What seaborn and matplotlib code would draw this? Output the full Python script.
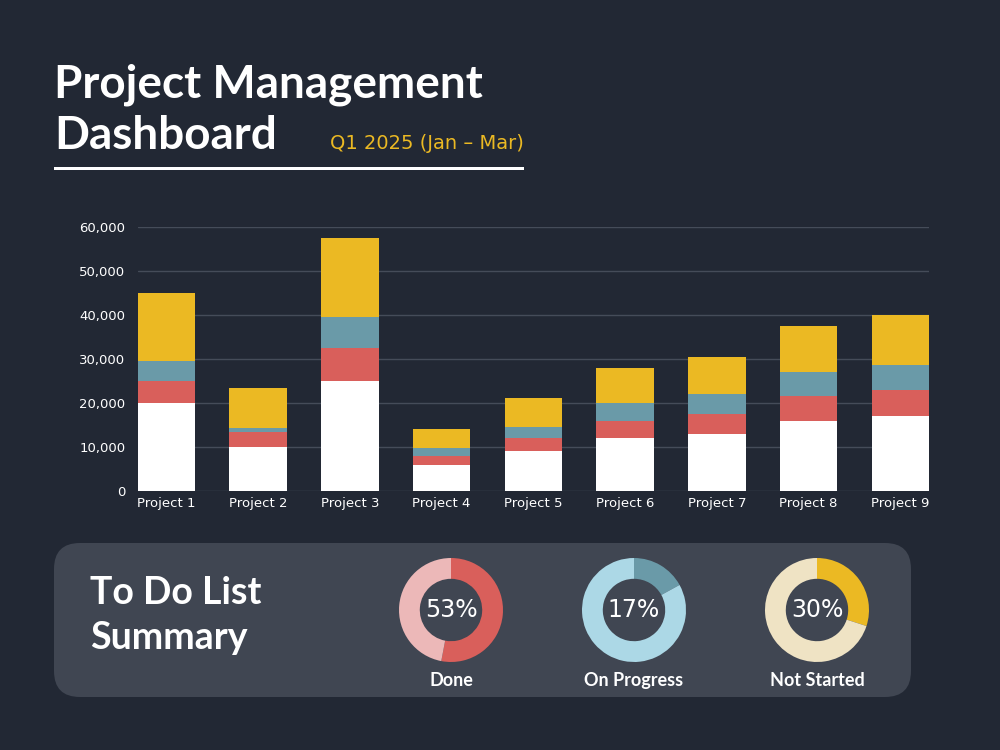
import numpy as np
import pandas as pd
import seaborn as sns
import matplotlib.pyplot as plt
from matplotlib.patches import FancyBboxPatch, Rectangle

# ---- data ----
projects = ["Project 1", "Project 2", "Project 3", "Project 4", "Project 5",
            "Project 6", "Project 7", "Project 8", "Project 9"]
seg_white = [20000, 10000, 25000, 6000, 9000, 12000, 13000, 16000, 17000]
seg_red = [5000, 3500, 7500, 2000, 3000, 4000, 4500, 5500, 6000]
seg_teal = [4500, 800, 7000, 1800, 2500, 4000, 4500, 5500, 5500]
seg_yellow = [15500, 9000, 18000, 4200, 6500, 8000, 8500, 10500, 11500]

status_labels = ["Done", "On Progress", "Not Started"]
status_pct = [53, 17, 30]

yticks = [0, 10000, 20000, 30000, 40000, 50000, 60000]

# ---- colours ----
BG = "#222834"
PANEL = "#404652"
GRID = "#454c59"
WHITE = "#ffffff"
RED = "#d95f5b"
TEAL = "#6a9aa8"
YELLOW = "#ebb923"
ring_main = [RED, TEAL, YELLOW]
ring_light = ["#ecb8b8", "#acd8e6", "#efe3c4"]

sns.set_theme(style="dark")
plt.rcParams['font.family'] = ['DejaVu Sans']

fig = plt.figure(figsize=(10, 7.5), dpi=100, facecolor=BG)

# background layer in pixel coordinates
bg = fig.add_axes([0, 0, 1, 1], zorder=0)
bg.set_xlim(0, 1000)
bg.set_ylim(750, 0)
bg.axis("off")
bg.set_facecolor(BG)

title_font = ['Lato', 'DejaVu Sans']
bg.text(54, 97, "Project Management", color=WHITE, fontsize=33, fontweight="bold",
        family=title_font, va="baseline", ha="left")
bg.text(54, 149, "Dashboard", color=WHITE, fontsize=33, fontweight="bold",
        family=title_font, va="baseline", ha="left")
bg.text(330, 149, "Q1 2025 (Jan \u2013 Mar)", color=YELLOW, fontsize=14,
        va="baseline", ha="left")
bg.add_patch(Rectangle((54, 166.5), 470, 3.5, color=WHITE, lw=0))

# bottom summary panel
bg.add_patch(FancyBboxPatch((54, 543), 857, 154,
                            boxstyle="round,pad=0,rounding_size=26",
                            facecolor=PANEL, edgecolor="none"))
bg.text(90, 603.5, "To Do List", color=WHITE, fontsize=27, fontweight="bold",
        family=title_font, va="baseline", ha="left")
bg.text(90, 649, "Summary", color=WHITE, fontsize=27, fontweight="bold",
        family=title_font, va="baseline", ha="left")

# ---- stacked bar chart ----
df = pd.DataFrame({
    "project": projects,
    "white": seg_white,
    "red": seg_red,
    "teal": seg_teal,
    "yellow": seg_yellow,
})
df["c_white"] = df["white"]
df["c_red"] = df["c_white"] + df["red"]
df["c_teal"] = df["c_red"] + df["teal"]
df["c_yellow"] = df["c_teal"] + df["yellow"]

ax = fig.add_axes([0.1377, 1 - 491 / 750, 0.929 - 0.1377, (491 - 226.7) / 750], zorder=1)
ax.set_facecolor("none")
for col, color in [("c_yellow", YELLOW), ("c_teal", TEAL), ("c_red", RED), ("c_white", WHITE)]:
    sns.barplot(data=df, x="project", y=col, color=color, width=0.625,
                saturation=1, ax=ax, zorder=3, linewidth=0)

ax.set_xlim(-0.3125, 8.3125)
ax.set_ylim(0, 60000)
ax.set_yticks(yticks)
ax.set_yticklabels([f"{v:,}" for v in yticks])
ax.yaxis.grid(True, color=GRID, linewidth=1)
ax.xaxis.grid(False)
ax.set_axisbelow(True)
for s in ax.spines.values():
    s.set_visible(False)
ax.tick_params(axis="y", colors=WHITE, labelsize=9.5, length=0, pad=9)
ax.tick_params(axis="x", colors=WHITE, labelsize=9.5, length=0, pad=4)
ax.set_xlabel("")
ax.set_ylabel("")

# ---- donut charts ----
centers_x = [451, 634, 817]
cy = 610
r = 52
for i, (lab, pct) in enumerate(zip(status_labels, status_pct)):
    cx = centers_x[i]
    dax = fig.add_axes([(cx - r) / 1000, 1 - (cy + r) / 750, 2 * r / 1000, 2 * r / 750], zorder=2)
    dax.pie([pct, 100 - pct], colors=[ring_main[i], ring_light[i]], startangle=90,
            counterclock=False, radius=1, wedgeprops=dict(width=0.4, linewidth=0))
    dax.set_xlim(-1, 1)
    dax.set_ylim(-1, 1)
    dax.text(0, 0, f"{pct}%", color=WHITE, fontsize=17, ha="center", va="center")
    bg.text(cx, 686, lab, color=WHITE, fontsize=13, fontweight="bold",
            family=title_font, ha="center", va="baseline")

fig.savefig("out.png", dpi=100, facecolor=BG)
